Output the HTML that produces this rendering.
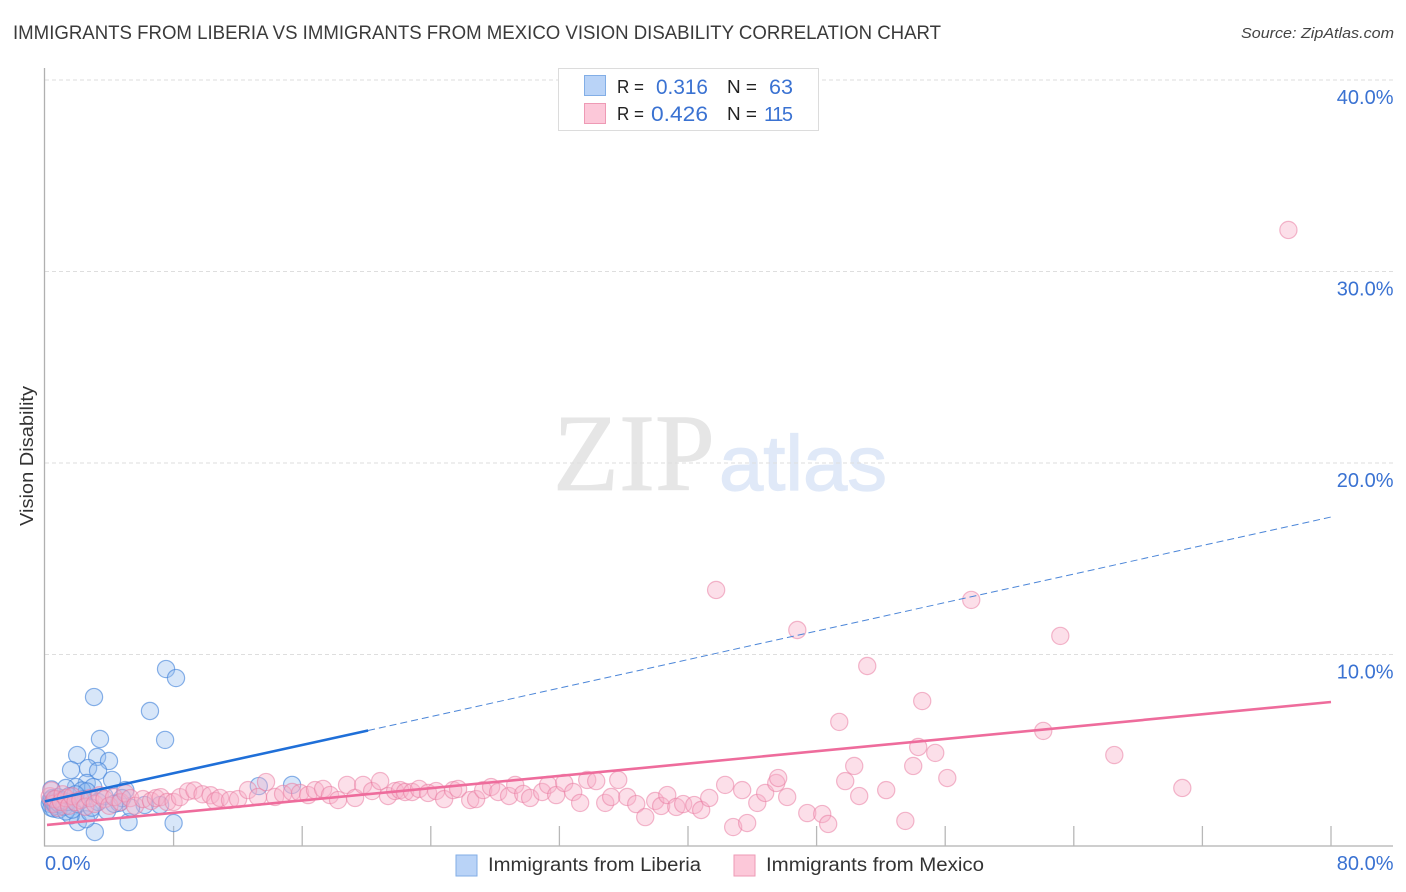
<!DOCTYPE html>
<html lang="en">
<head>
<meta charset="utf-8">
<title>Immigrants from Liberia vs Immigrants from Mexico Vision Disability Correlation Chart</title>
<style>
html,body{margin:0;padding:0;background:#fff;}
svg{display:block;font-family:"Liberation Sans",sans-serif;}
</style>
</head>
<body>
<svg id="chart" xmlns="http://www.w3.org/2000/svg" width="1406" height="892" viewBox="0 0 1406 892">
  <text x="13" y="39" font-size="19" fill="#3a3a3a" textLength="928" lengthAdjust="spacingAndGlyphs">IMMIGRANTS FROM LIBERIA VS IMMIGRANTS FROM MEXICO VISION DISABILITY CORRELATION CHART</text>
  <text x="1241" y="38" font-size="15" font-style="italic" fill="#444" textLength="153" lengthAdjust="spacingAndGlyphs">Source: ZipAtlas.com</text>
  <g>
    <text x="553" y="490" font-family="'Liberation Serif',serif" font-size="110" fill="#e6e6e6" stroke="#e6e6e6" stroke-width="0.8" textLength="162" lengthAdjust="spacingAndGlyphs">ZIP</text>
    <text x="719" y="490" font-size="78" fill="#e0e9f8" stroke="#e0e9f8" stroke-width="1.2" textLength="168" lengthAdjust="spacingAndGlyphs">atlas</text>
  </g>
  <g id="grid"></g>
  <g id="axes"></g>
  <g id="points-liberia"></g>
  <g id="points-mexico"></g>
  <g id="trends"></g>
  <g id="tick-labels"></g>
  <text transform="translate(33,456) rotate(-90)" text-anchor="middle" font-size="18" fill="#333" textLength="140" lengthAdjust="spacingAndGlyphs">Vision Disability</text>

  <g>
    <rect x="558.5" y="68.5" width="260" height="62" fill="#fff" stroke="#dcdcdc" stroke-width="1"/>
    <rect x="584.5" y="75.5" width="21" height="20" fill="#b9d3f7" stroke="#82aee6"/>
    <rect x="584.5" y="103.5" width="21" height="20" fill="#fcc8d9" stroke="#ee9ab5"/>
    <g font-size="19.5" fill="#222">
      <text x="617" y="93" font-size="18" textLength="27" lengthAdjust="spacingAndGlyphs">R =</text>
      <text x="727" y="93" font-size="18" textLength="30" lengthAdjust="spacingAndGlyphs">N =</text>
      <text x="617" y="120" font-size="18" textLength="27" lengthAdjust="spacingAndGlyphs">R =</text>
      <text x="727" y="120" font-size="18" textLength="30" lengthAdjust="spacingAndGlyphs">N =</text>
    </g>
    <g font-size="21" fill="#3a72d2">
      <text x="656" y="94" textLength="52" lengthAdjust="spacingAndGlyphs">0.316</text>
      <text x="769" y="94" textLength="24" lengthAdjust="spacingAndGlyphs">63</text>
      <text x="651" y="121" textLength="57" lengthAdjust="spacingAndGlyphs">0.426</text>
      <text x="764" y="121" font-size="20" textLength="29" lengthAdjust="spacing">115</text>
    </g>
  </g>

  <g>
    <g>
      <rect x="456" y="855" width="21" height="21" fill="#b9d3f7" stroke="#82aee6"/>
      <text x="488" y="871" font-size="19" fill="#333" textLength="213" lengthAdjust="spacingAndGlyphs">Immigrants from Liberia</text>
    </g>
    <g>
      <rect x="734" y="855" width="21" height="21" fill="#fcc8d9" stroke="#ee9ab5"/>
      <text x="766" y="871" font-size="19" fill="#333" textLength="218" lengthAdjust="spacingAndGlyphs">Immigrants from Mexico</text>
    </g>
  </g>
</svg>
<script>
const liberiaX = [7.53,8.15,3.05,6.53,7.47,3.42,2.0,3.24,3.98,2.68,1.62,3.3,4.17,2.6,1.93,1.3,3.0,5.0,13.3,15.37,2.3,2.6,0.4,3.1,8.0,5.2,2.05,2.55,3.86,1.6,7.16,6.2,5.35,4.6,4.8,0.3,0.35,0.4,0.45,0.5,0.55,0.6,0.65,0.7,0.75,0.8,0.85,0.9,1.0,1.1,1.2,1.3,1.4,1.5,1.7,2.0,2.4,2.8,3.3,3.7,4.3,1.9,2.9];
const liberiaY = [9.24,8.77,7.78,7.05,5.54,5.59,4.75,4.65,4.44,4.07,3.97,3.92,3.45,3.29,3.08,3.03,3.08,2.92,3.13,3.19,2.9,2.85,2.95,0.73,1.2,1.25,1.25,1.4,1.83,1.6,2.14,2.14,2.0,2.25,2.5,2.2,2.4,2.0,2.5,2.3,1.95,2.2,2.45,2.1,2.3,2.55,1.9,2.2,2.35,2.4,2.05,1.8,2.3,2.6,1.9,2.2,2.45,1.75,2.3,2.6,2.2,2.7,2.0];
const mexicoX = [0.3,0.4,0.5,0.6,0.8,1.0,1.1,1.3,1.5,1.7,1.9,2.2,2.5,2.8,3.1,3.4,3.7,4.0,4.3,4.7,5.0,5.3,5.6,6.1,6.6,6.9,7.2,7.6,8.0,8.4,8.9,9.3,9.8,10.3,10.6,10.89,11.51,12.01,12.63,13.25,13.75,14.31,14.81,15.37,15.87,16.37,16.8,17.3,17.73,18.23,18.79,19.29,19.79,20.35,20.85,21.34,21.78,22.09,22.4,22.84,23.27,23.83,24.33,24.83,25.39,25.7,26.45,26.82,27.26,27.75,28.19,28.87,29.25,29.75,30.18,30.93,31.3,31.8,32.3,32.86,33.29,33.73,34.29,34.85,35.22,35.66,36.22,36.78,37.34,37.96,38.33,38.71,39.27,39.7,40.39,40.82,41.32,42.31,43.37,44.31,44.8,45.49,45.61,46.17,47.42,42.81,43.68,48.35,48.72,49.78,49.41,50.34,50.65,52.33,53.52,54.01,54.32,54.57,55.38,56.13,51.15,46.8,41.75,57.62,62.1,63.16,66.52,70.75,77.35];
const mexicoY = [2.6,2.9,2.2,2.45,2.0,2.3,2.7,2.5,2.1,2.6,2.3,2.4,2.05,2.5,2.2,2.65,2.45,2.1,2.55,2.3,2.75,2.5,2.1,2.45,2.35,2.5,2.55,2.3,2.3,2.55,2.85,2.9,2.7,2.65,2.35,2.51,2.4,2.45,2.92,2.56,3.34,2.56,2.72,2.82,2.77,2.66,2.92,2.98,2.66,2.4,3.19,2.51,3.19,2.87,3.39,2.61,2.87,2.92,2.82,2.82,2.98,2.77,2.87,2.45,2.92,2.98,2.4,2.45,2.92,3.08,2.82,2.61,3.19,2.72,2.51,2.82,3.19,2.66,3.29,2.82,2.25,3.45,3.39,2.25,2.56,3.45,2.56,2.19,1.51,2.35,2.09,2.66,2.04,2.19,2.14,1.88,2.51,3.19,2.92,2.25,2.77,3.29,3.55,2.56,1.72,0.99,1.2,1.67,1.15,3.39,6.48,4.18,2.61,2.92,1.31,4.18,5.17,7.57,4.86,3.55,9.4,11.28,13.37,12.85,6.01,10.97,4.75,3.03,32.17];
const liberiaTrendX = [0, 20.1, 80];
const liberiaTrendY = [2.33, 6.03, 17.18];
const mexicoTrendX = [0, 80];
const mexicoTrendY = [1.1, 7.52];
const yTickValues = [10, 20, 30, 40];
const yTickLabels = ["10.0%", "20.0%", "30.0%", "40.0%"];
const xTickValues = [8, 16, 24, 32, 40, 48, 56, 64, 72, 80];
const xEndValues = [0, 80];
const xEndLabels = ["0.0%", "80.0%"];

const NS = "http://www.w3.org/2000/svg";
const xPos = v => 45 + v * 16.075;
const yPos = v => 846 - v * 19.15;
function make(tag, parentId, attrs) {
  const el = document.createElementNS(NS, tag);
  for (const k in attrs) el.setAttribute(k, attrs[k]);
  document.getElementById(parentId).appendChild(el);
  return el;
}

yTickValues.forEach((v, i) => {
  const line = make("line", "grid", {x1: 45, x2: 1393, y1: yPos(v), y2: yPos(v), stroke: "#dedede", "stroke-width": 1, "stroke-dasharray": "4 3"});
  
  
  const label = make("text", "tick-labels", {x: 1393.5, y: yPos(v) + 24, "text-anchor": "end", "font-size": 20, fill: "#3a72d2"});
  label.textContent = yTickLabels[i];
  
  
});

const yAxis = make("line", "axes", {x1: 44.5, x2: 44.5, y1: 68, y2: 846.5, stroke: "#b0b0b0", "stroke-width": 1.3});


const xAxis = make("line", "axes", {x1: 44, x2: 1393, y1: 846, y2: 846, stroke: "#b0b0b0", "stroke-width": 1.3});



xTickValues.forEach(v => {
  const tick = make("line", "axes", {x1: xPos(v), x2: xPos(v), y1: 826, y2: 846, stroke: "#b8b8b8", "stroke-width": 1.3});
  
  
});

xEndValues.forEach((v, i) => {
  const label = make("text", "tick-labels", {x: i === 0 ? xPos(v) : 1393.5, y: 870, "text-anchor": i === 0 ? "start" : "end", "font-size": 20, fill: "#3a72d2"});
  label.textContent = xEndLabels[i];
  
  
});

liberiaX.forEach((v, i) => {
  const c = make("circle", "points-liberia", {cx: xPos(v), cy: yPos(liberiaY[i]), r: 8.6, fill: "rgba(150,190,240,0.38)", stroke: "rgba(66,130,218,0.62)", "stroke-width": 1.2});
  
  
});

mexicoX.forEach((v, i) => {
  const c = make("circle", "points-mexico", {cx: xPos(v), cy: yPos(mexicoY[i]), r: 8.6, fill: "rgba(248,175,200,0.4)", stroke: "rgba(232,120,160,0.52)", "stroke-width": 1.2});
  
  
});

const libSolid = make("line", "trends", {x1: xPos(liberiaTrendX[0]), y1: yPos(liberiaTrendY[0]), x2: xPos(liberiaTrendX[1]), y2: yPos(liberiaTrendY[1]), stroke: "#1f6fd8", "stroke-width": 2.6});


const libDash = make("line", "trends", {x1: xPos(liberiaTrendX[1]), y1: yPos(liberiaTrendY[1]), x2: xPos(liberiaTrendX[2]), y2: yPos(liberiaTrendY[2]), stroke: "#4c86d8", "stroke-width": 1, "stroke-dasharray": "7 4"});


const mexLine = make("line", "trends", {x1: xPos(mexicoTrendX[0]) + 2, y1: yPos(mexicoTrendY[0]), x2: xPos(mexicoTrendX[1]), y2: yPos(mexicoTrendY[1]), stroke: "#ee6c9c", "stroke-width": 2.6});


</script>
</body>
</html>
